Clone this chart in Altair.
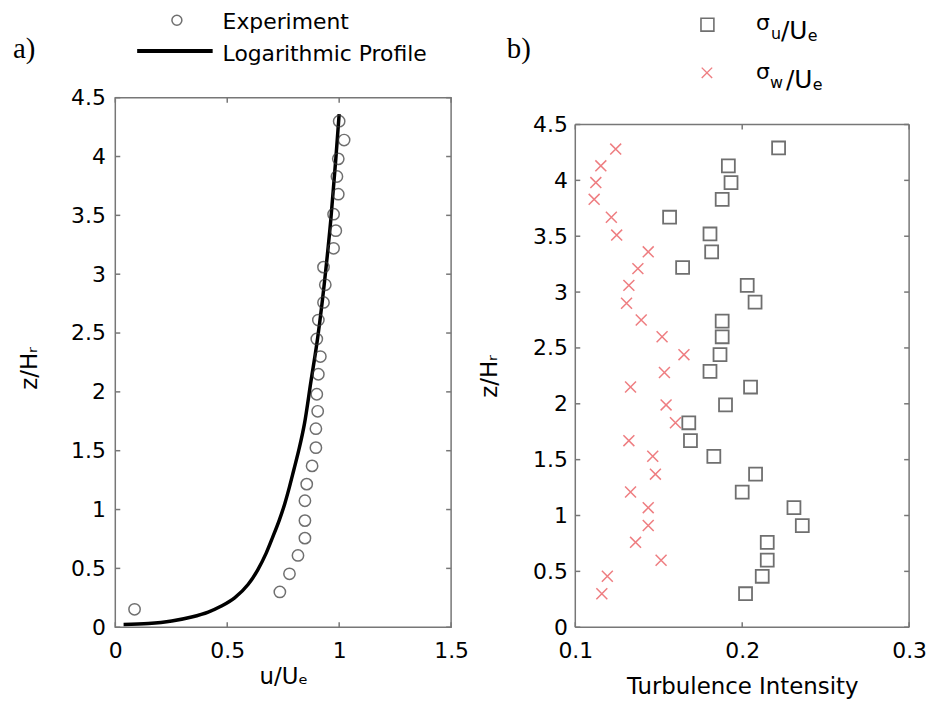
import altair as alt
import pandas as pd

# ---------------- Panel a) mean velocity profile ----------------
exp_u = [1.000, 1.022, 0.996, 0.990, 0.996, 0.975, 0.985, 0.975, 0.930, 0.938,
         0.930, 0.907, 0.900, 0.916, 0.907, 0.900, 0.904, 0.896, 0.896, 0.879,
         0.855, 0.847, 0.847, 0.847, 0.816, 0.778, 0.735, 0.086]
exp_z = [4.30, 4.14, 3.98, 3.83, 3.68, 3.51, 3.37, 3.22, 3.06, 2.91,
         2.76, 2.61, 2.45, 2.30, 2.15, 1.98, 1.835, 1.687, 1.526, 1.371,
         1.216, 1.075, 0.906, 0.757, 0.61, 0.454, 0.30, 0.152]

log_u = [0.037, 0.148, 0.252, 0.341, 0.415, 0.474, 0.533, 0.593, 0.637, 0.674,
         0.704, 0.733, 0.757, 0.778, 0.797, 0.819, 0.845, 0.874, 0.904, 0.941,
         0.963, 0.985, 1.000]
log_z = [0.023, 0.031, 0.053, 0.087, 0.129, 0.180, 0.250, 0.363, 0.490, 0.630,
         0.770, 0.912, 1.050, 1.193, 1.334, 1.500, 1.730, 2.090, 2.460, 3.050,
         3.470, 3.980, 4.360]

# ---------------- Panel b) turbulence intensity ----------------
su = [0.2218, 0.1917, 0.1933, 0.1880, 0.1565, 0.1807, 0.1817, 0.1643, 0.2030, 0.2077,
      0.1880, 0.1880, 0.1867, 0.1807, 0.2050, 0.1900, 0.1680, 0.1690, 0.1830, 0.2080,
      0.2000, 0.2310, 0.2360, 0.2150, 0.2150, 0.2120, 0.2020]
z_su = [4.29, 4.13, 3.98, 3.83, 3.67, 3.52, 3.36, 3.22, 3.06, 2.91,
        2.74, 2.60, 2.44, 2.29, 2.15, 1.99, 1.83, 1.67, 1.53, 1.37,
        1.21, 1.07, 0.91, 0.76, 0.60, 0.456, 0.30]
sw = [0.1242, 0.1153, 0.1123, 0.1113, 0.1216, 0.1248, 0.1437, 0.1375, 0.1321, 0.1307,
      0.1395, 0.1520, 0.1651, 0.1534, 0.1331, 0.1544, 0.1600, 0.1321, 0.1464, 0.1480,
      0.1331, 0.1437, 0.1437, 0.1361, 0.1514, 0.1192, 0.1159]
z_sw = [4.28, 4.13, 3.98, 3.83, 3.67, 3.51, 3.36, 3.21, 3.06, 2.90,
        2.75, 2.60, 2.44, 2.28, 2.15, 1.99, 1.83, 1.67, 1.53, 1.37,
        1.21, 1.07, 0.91, 0.76, 0.60, 0.456, 0.30]

xticks_a = [0, 0.5, 1, 1.5]
xticks_b = [0.1, 0.2, 0.3]
yticks = [0, 0.5, 1, 1.5, 2, 2.5, 3, 3.5, 4, 4.5]

legend_a = ["Experiment", "Logarithmic Profile"]
panel_labels = ["a)", "b)"]

FONT = "DejaVu Sans"
SERIF = "Liberation Serif"
FRAME = "#777777"
RED = "#e8474c"
XSHAPE = "M-1,-1L1,1M-1,1L1,-1"

W1, H = 338, 533
W2 = 336
TOP2 = 27  # panel b plot area starts lower than panel a


def one(text):
    return pd.DataFrame({"label": [text]})


def txt(text, x, y, size, font=FONT, color="black"):
    return alt.Chart(one(text)).mark_text(
        align="left", baseline="alphabetic", font=font, fontSize=size, color=color
    ).encode(text="label:N", x=alt.value(x), y=alt.value(y))


ax_common = dict(ticks=False, domain=False, grid=False, format="~g", labelFlush=False,
                 labelFont=FONT, labelFontSize=22, labelColor="black",
                 titleFont=FONT, titleFontSize=23, titleFontWeight="normal",
                 titleColor="black")


def anchor(x1, x2, y):
    return alt.Chart(one("")).mark_rule(opacity=0, strokeWidth=0.1).encode(
        x=alt.value(x1), x2=alt.value(x2), y=alt.value(y), y2=alt.value(y))


# ----- panel a -----
xs1 = alt.Scale(domain=[0, 1.5], nice=False, zero=False)
ys1 = alt.Scale(domain=[0, 4.5], nice=False)
xax1 = alt.Axis(values=xticks_a, title="u/Uₑ", labelPadding=13, titlePadding=5, **ax_common)
yax1 = alt.Axis(values=yticks, title="z/Hᵣ", labelPadding=10, titlePadding=29,
                titleY=272, **ax_common)
X1 = dict(scale=xs1, axis=xax1)
Y1 = dict(scale=ys1, axis=yax1)

df_exp = pd.DataFrame({"u": exp_u, "z": exp_z})
df_log = pd.DataFrame({"u": log_u, "z": log_z, "i": list(range(len(log_u)))})

line_a = alt.Chart(df_log).mark_line(color="black", strokeWidth=3.5, interpolate="monotone").encode(
    x=alt.X("u:Q", **X1), y=alt.Y("z:Q", **Y1), order="i:Q")
pts_a = alt.Chart(df_exp).mark_point(shape="circle", filled=False, size=130,
                                     color="#333333", strokeWidth=1.5).encode(
    x=alt.X("u:Q", **X1), y=alt.Y("z:Q", **Y1))

tst = dict(color=FRAME, strokeWidth=1.5)
dxa = pd.DataFrame({"u": xticks_a})
dya = pd.DataFrame({"z": yticks})
ticks_a = [
    alt.Chart(dxa).mark_rule(**tst).encode(x=alt.X("u:Q", **X1), y=alt.value(H), y2=alt.value(H - 5)),
    alt.Chart(dxa).mark_rule(**tst).encode(x=alt.X("u:Q", **X1), y=alt.value(0), y2=alt.value(5)),
    alt.Chart(dya).mark_rule(**tst).encode(y=alt.Y("z:Q", **Y1), x=alt.value(0), x2=alt.value(5)),
    alt.Chart(dya).mark_rule(**tst).encode(y=alt.Y("z:Q", **Y1), x=alt.value(W1), x2=alt.value(W1 - 5)),
]

leg_circle = alt.Chart(one(legend_a[0])).mark_point(
    shape="circle", filled=False, size=100, color="#333333", strokeWidth=1.5
).encode(x=alt.value(62), y=alt.value(-78))
leg_line = alt.Chart(one(legend_a[1])).mark_rule(color="black", strokeWidth=4).encode(
    x=alt.value(22), x2=alt.value(98), y=alt.value(-47))

panel_a = alt.layer(
    line_a, pts_a, *ticks_a,
    leg_circle, leg_line,
    txt(legend_a[0], 108, -69, 22),
    txt(legend_a[1], 108, -37, 22),
    txt(panel_labels[0], -103, -40, 29, font=SERIF),
    anchor(-107, 360, -87),
).properties(width=W1, height=H, view=alt.ViewBackground(stroke=FRAME, strokeWidth=1.5))

# ----- panel b -----
xs2 = alt.Scale(domain=[0.1, 0.3], nice=False, zero=False)
ys2 = alt.Scale(domain=[0, 4.5], nice=False, range=[H, TOP2])
xax2 = alt.Axis(values=xticks_b, title="Turbulence Intensity", labelPadding=13,
                titlePadding=15, **ax_common)
yax2 = alt.Axis(values=yticks, title="z/Hᵣ", labelPadding=8, titlePadding=31,
                titleY=(H + TOP2) / 2, **ax_common)
X2 = dict(scale=xs2, axis=xax2)
Y2 = dict(scale=ys2, axis=yax2)

df_su = pd.DataFrame({"ti": su, "z": z_su})
df_sw = pd.DataFrame({"ti": sw, "z": z_sw})

pts_su = alt.Chart(df_su).mark_point(shape="square", filled=False, size=170,
                                     color="#333333", strokeWidth=1.8).encode(
    x=alt.X("ti:Q", **X2), y=alt.Y("z:Q", **Y2))
pts_sw = alt.Chart(df_sw).mark_point(shape=XSHAPE, filled=False, size=121,
                                     color=RED, strokeWidth=1.5).encode(
    x=alt.X("ti:Q", **X2), y=alt.Y("z:Q", **Y2))

dxb = pd.DataFrame({"ti": xticks_b})
dyb = pd.DataFrame({"z": yticks})
y_lo, y_hi = yticks[0], yticks[-1]
x_lo, x_hi = xticks_b[0], xticks_b[-1]
ticks_b = [
    # frame
    alt.Chart(pd.DataFrame({"ti": [x_lo, x_hi]})).mark_rule(**tst).encode(
        x=alt.X("ti:Q", **X2), y=alt.Y("z0:Q", **Y2), y2="z1:Q"
    ).transform_calculate(z0=f"{y_lo}", z1=f"{y_hi}"),
    alt.Chart(pd.DataFrame({"z": [y_lo, y_hi]})).mark_rule(**tst).encode(
        y=alt.Y("z:Q", **Y2), x=alt.value(0), x2=alt.value(W2)),
    # inward ticks
    alt.Chart(dxb).mark_rule(**tst).encode(x=alt.X("ti:Q", **X2), y=alt.value(H), y2=alt.value(H - 5)),
    alt.Chart(dxb).mark_rule(**tst).encode(x=alt.X("ti:Q", **X2), y=alt.value(TOP2), y2=alt.value(TOP2 + 5)),
    alt.Chart(dyb).mark_rule(**tst).encode(y=alt.Y("z:Q", **Y2), x=alt.value(0), x2=alt.value(5)),
    alt.Chart(dyb).mark_rule(**tst).encode(y=alt.Y("z:Q", **Y2), x=alt.value(W2), x2=alt.value(W2 - 5)),
]

leg_sq = alt.Chart(one("su")).mark_point(shape="square", filled=False, size=169,
                                         color="#333333", strokeWidth=1.6).encode(
    x=alt.value(133), y=alt.value(-73.5))
leg_x = alt.Chart(one("sw")).mark_point(shape=XSHAPE, filled=False, size=110,
                                        color=RED, strokeWidth=1.4).encode(
    x=alt.value(132.5), y=alt.value(-25))

panel_b = alt.layer(
    pts_su, pts_sw, *ticks_b,
    leg_sq, leg_x,
    txt("σ", 182, -68, 22), txt("u", 197, -59, 16), txt("/U", 207, -59, 25), txt("e", 234, -57, 16),
    txt("σ", 182, -19, 22), txt("w", 196, -10, 16), txt("/U", 212, -10, 25), txt("e", 239, -8, 16),
    txt(panel_labels[1], -69, -40, 29, font=SERIF),
    anchor(-100, 0, -87),
).properties(width=W2, height=H, view=alt.ViewBackground(stroke="transparent"))

chart = alt.hconcat(panel_a, panel_b, spacing=1).properties(padding=0).configure(background="white")

chart.save("out.html", embed_options={"renderer": "svg", "actions": False})
